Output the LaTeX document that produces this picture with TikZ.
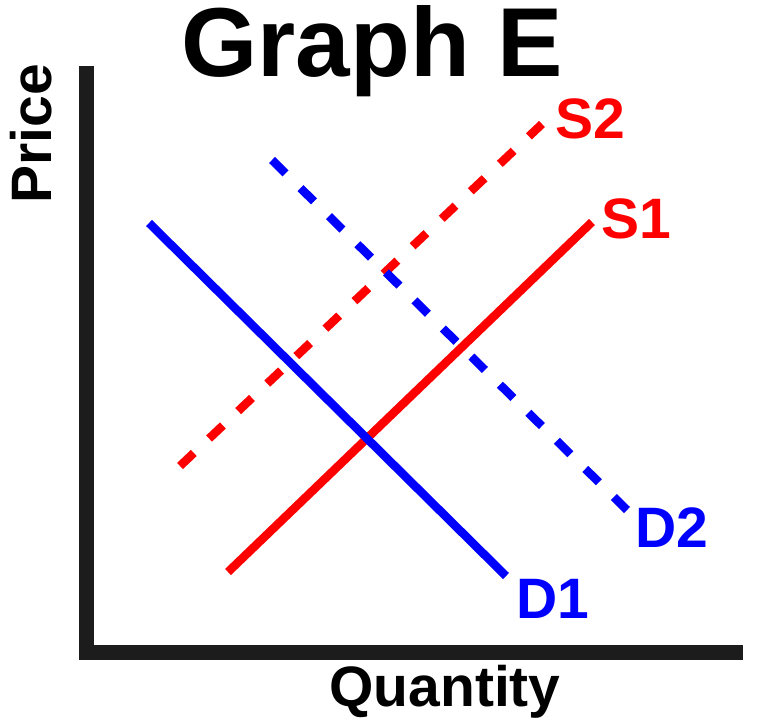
\documentclass[tikz,border=0pt]{standalone}
\usepackage{fontspec}
\setmainfont{Liberation Sans}
\begin{document}
\begin{tikzpicture}[x=1pt,y=-1pt,
  axisline/.style={line width=15pt,color=black!89},
  curve/.style={line width=8.5pt},
  dashcurve/.style={line width=8.5pt,dash pattern=on 19pt off 21pt},
  lbl/.style={inner sep=0pt,anchor=base west,font=\fontsize{57}{60}\selectfont\bfseries},
  axlbl/.style={inner sep=0pt,anchor=base,font=\fontsize{57}{60}\selectfont\bfseries}]
\useasboundingbox (0,0) rectangle (773,720);
% axes
\coordinate (ytop) at (86.5,66);
\coordinate (origin) at (86.5,652);
\coordinate (xend) at (743,652);
\draw[axisline] (ytop) -- (86.5,659.5);
\draw[axisline] (79,652) -- (xend);
% curves
\coordinate (d1a) at (149,223);
\coordinate (d1b) at (506,576);
\coordinate (d2a) at (272,160);
\coordinate (d2b) at (627,510);
\coordinate (s1a) at (228,572);
\coordinate (s1b) at (592,222);
\coordinate (s2a) at (180,466);
\coordinate (s2b) at (542,124);
\draw[curve,red] (s1a) -- (s1b);
\draw[dashcurve,red] (s2a) -- (s2b);
\draw[curve,blue] (d1a) -- (d1b);
\draw[dashcurve,blue] (d2a) -- (d2b);
% labels
\node[lbl,red] (S2) at (555,138) {S2};
\node[lbl,red] (S1) at (601,238) {S1};
\node[lbl,blue] (D2) at (635,547) {D2};
\node[lbl,blue] (D1) at (516,618) {D1};
\node[axlbl] (title) at (372,76) {\fontsize{98}{100}\selectfont Graph E};
\node[axlbl] (qty) at (445,706) {Quantity};
\node[axlbl,rotate=90] (price) at (51,133.5) {Price};
\end{tikzpicture}
\end{document}
